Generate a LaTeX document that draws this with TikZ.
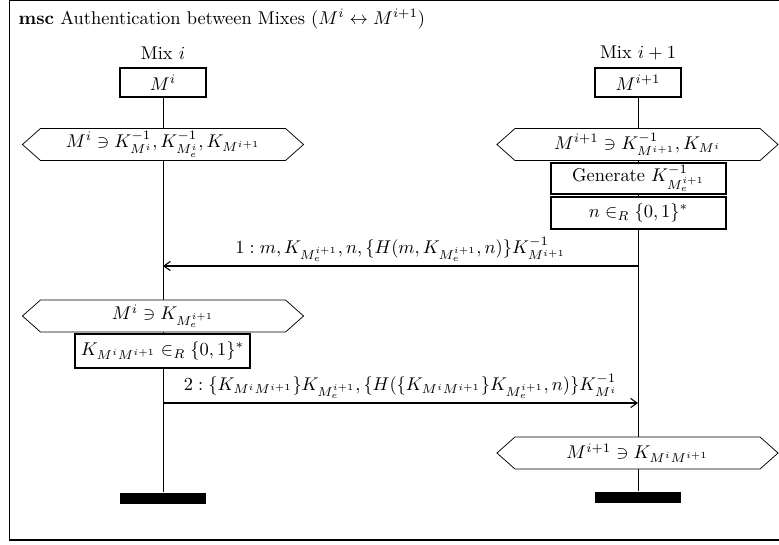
\documentclass[tikz,border=0pt]{standalone}
\usepackage{amsmath,amssymb}
\usetikzlibrary{arrows.meta,backgrounds}
\begin{document}
\begin{tikzpicture}[x=0.5425pt,y=-0.5425pt,line width=0.6pt,
  headbox/.style={draw,fill=white,inner sep=0pt,minimum width=46.7pt,minimum height=15.7pt},
  actbox/.style={draw,fill=white,inner sep=0pt,minimum width=94.9pt,minimum height=16.8pt},
  endbar/.style={fill=black,inner sep=0pt,minimum width=46.7pt,minimum height=6pt},
  hexnode/.style={inner sep=0pt,minimum width=151.9pt,minimum height=16.8pt},
  hexline/.style={draw,fill=white},
  msgline/.style={-{Straight Barb[length=3.5pt,width=5pt]}},
  lifeline/.style={draw}]
\useasboundingbox (0,0) rectangle (779,544);
\draw[line width=1pt] (9.5,0.5) rectangle (782,540);
\node[anchor=west] (title) at (12,19) {\textbf{msc} Authentication between Mixes ($M^i \leftrightarrow M^{i+1}$)};

% instance heads
\node (namel) at (163,53) {Mix $i$};
\node (namer) at (638,53) {Mix $i+1$};
\node[headbox] (headl) at (163,82.5) {$M^i$};
\node[headbox] (headr) at (638,82.5) {$M^{i+1}$};
\node[endbar] (endl) at (163,498.5) {};
\node[endbar] (endr) at (638,497.5) {};

% conditions (hexagons)
\node[hexnode] (hexl1) at (163,144.5) {$M^i \ni K^{-1}_{M^i}, K^{-1}_{M^i_e}, K_{M^{i+1}}$};
\node[hexnode] (hexr1) at (637.5,144.5) {$M^{i+1} \ni K^{-1}_{M^{i+1}}, K_{M^i}$};
\node[hexnode] (hexl2) at (163,316) {$M^i \ni K_{M_e^{i+1}}$};
\node[hexnode] (hexr2) at (637.5,453) {$M^{i+1} \ni K_{M^iM^{i+1}}$};

% actions
\node[actbox] (gen) at (638.5,178.5) {Generate $K^{-1}_{M_e^{i+1}}$};
\node[actbox,minimum height=17.4pt] (nonce) at (638.5,213) {$n \in_R \{0,1\}^*$};
\node[actbox,minimum height=18.4pt] (kgen) at (162.5,351) {$K_{M^iM^{i+1}} \in_R \{0,1\}^*$};

\begin{scope}[on background layer]
  \draw[lifeline] (headl.south) -- (endl.north);
  \draw[lifeline] (headr.south) -- (endr.north);
  \foreach \h in {hexl1,hexr1,hexl2,hexr2}{
    \path[hexline] (\h.west) -- ([xshift=9.8pt]\h.north west) -- ([xshift=-9.8pt]\h.north east)
      -- (\h.east) -- ([xshift=-9.8pt]\h.south east) -- ([xshift=9.8pt]\h.south west) -- cycle;
  }
\end{scope}

% messages
\coordinate (m1r) at (638,266);
\coordinate (m1l) at (163,266);
\coordinate (m2l) at (163,403);
\coordinate (m2r) at (638,403);
\draw[msgline] (m1r) -- node[above,yshift=-1pt] (lab1) {$1: m, K_{M_e^{i+1}}, n, \{H(m, K_{M_e^{i+1}}, n)\}K^{-1}_{M^{i+1}}$} (m1l);
\draw[msgline] (m2l) -- node[above,yshift=-1pt] (lab2) {$2: \{K_{M^iM^{i+1}}\}K_{M_e^{i+1}}, \{H(\{K_{M^iM^{i+1}}\}K_{M_e^{i+1}}, n)\}K^{-1}_{M^i}$} (m2r);
\end{tikzpicture}
\end{document}
